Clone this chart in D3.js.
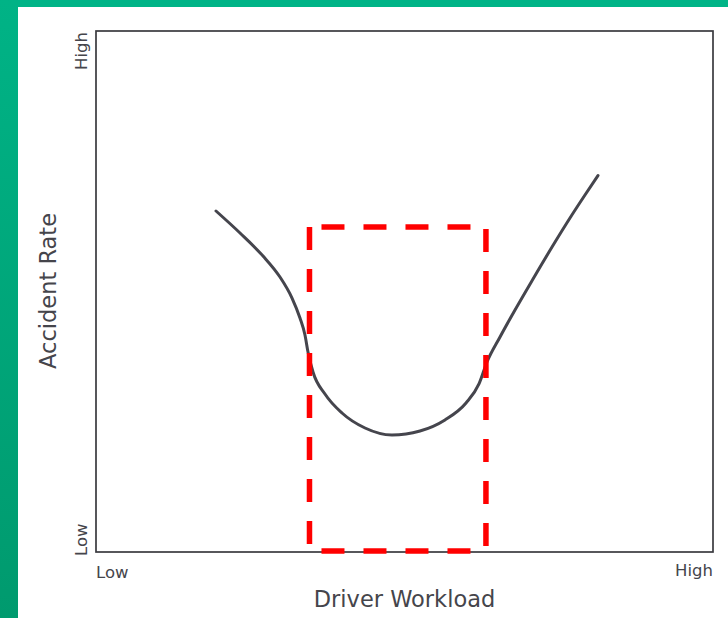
<!DOCTYPE html>
<html>
<head>
<meta charset="utf-8">
<script src="https://cdn.jsdelivr.net/npm/d3@7"></script>
<style>
  html, body { margin: 0; padding: 0; background: #ffffff; }
  svg { display: block; }
</style>
</head>
<body>
<svg id="chart" width="728" height="618"></svg>
<script>
// ---- data ----
const workload = [1.945, 2.334, 2.707, 2.982, 3.177, 3.306, 3.387, 3.436, 3.517, 3.711, 3.987, 4.360, 4.797, 5.251, 5.656, 5.997, 6.207, 6.337, 6.548, 6.791, 7.083, 7.391, 7.682, 7.925, 8.136];
const accidentRate = [6.545, 6.123, 5.681, 5.278, 4.875, 4.491, 4.165, 3.839, 3.455, 3.033, 2.668, 2.380, 2.246, 2.322, 2.534, 2.860, 3.225, 3.647, 4.127, 4.645, 5.240, 5.854, 6.411, 6.852, 7.226];
const endLabels = ["Low", "High"];
const xTitle = "Driver Workload";
const yTitle = "Accident Rate";
const zoneWorkload = [3.46, 6.32];
const zoneRate = [0.02, 6.24];

// ---- layout ----
const W = 728, H = 618;
const frame = { left: 96, right: 713, top: 31, bottom: 552 };
const svg = d3.select("#chart");

const defs = svg.append("defs");
const grad = defs.append("linearGradient").attr("id", "leftBand")
  .attr("x1", 0).attr("y1", 0).attr("x2", 0).attr("y2", 1);
grad.append("stop").attr("offset", "0%").attr("stop-color", "#00b386");
grad.append("stop").attr("offset", "100%").attr("stop-color", "#009a6e");

svg.append("rect").attr("x", 0).attr("y", 0).attr("width", W).attr("height", H).attr("fill", "#ffffff");
svg.append("rect").attr("x", 0).attr("y", 0).attr("width", W).attr("height", 7).attr("fill", "#00b487");
svg.append("rect").attr("x", 0).attr("y", 0).attr("width", 18).attr("height", H).attr("fill", "url(#leftBand)");

const x = d3.scaleLinear().domain([0, 10]).range([frame.left, frame.right]);
const y = d3.scaleLinear().domain([0, 10]).range([frame.bottom, frame.top]);

// frame
svg.append("rect")
  .attr("x", x(0)).attr("y", y(10))
  .attr("width", x(10) - x(0)).attr("height", y(0) - y(10))
  .attr("fill", "none").attr("stroke", "#3a3a3f").attr("stroke-width", 1.7);

const textColor = "#45454b";
const font = "'DejaVu Sans', sans-serif";

// y end labels (rotated)
svg.append("text")
  .attr("transform", `translate(87,${y(10) + 1}) rotate(-90)`)
  .attr("text-anchor", "end")
  .attr("font-family", font).attr("font-size", 16.5).attr("fill", textColor)
  .text(endLabels[1]);
svg.append("text")
  .attr("transform", `translate(87,${y(0) + 4}) rotate(-90)`)
  .attr("text-anchor", "start")
  .attr("font-family", font).attr("font-size", 16.5).attr("fill", textColor)
  .text(endLabels[0]);

// x end labels
svg.append("text")
  .attr("x", x(0)).attr("y", 578)
  .attr("text-anchor", "start")
  .attr("font-family", font).attr("font-size", 16.5).attr("fill", textColor)
  .text(endLabels[0]);
svg.append("text")
  .attr("x", x(10)).attr("y", 576)
  .attr("text-anchor", "end")
  .attr("font-family", font).attr("font-size", 16.5).attr("fill", textColor)
  .text(endLabels[1]);

// axis titles
svg.append("text")
  .attr("x", (x(0) + x(10)) / 2).attr("y", 607)
  .attr("text-anchor", "middle")
  .attr("font-family", font).attr("font-size", 22.5).attr("fill", textColor)
  .text(xTitle);
svg.append("text")
  .attr("transform", `translate(56,291) rotate(-90)`)
  .attr("text-anchor", "middle")
  .attr("font-family", font).attr("font-size", 22.5).attr("fill", textColor)
  .text(yTitle);

// curve
const pts = workload.map((w, i) => [w, accidentRate[i]]);
const line = d3.line()
  .x(d => x(d[0])).y(d => y(d[1]))
  .curve(d3.curveMonotoneX);
svg.append("path")
  .attr("d", line(pts))
  .attr("fill", "none")
  .attr("stroke", "#45454d")
  .attr("stroke-width", 3)
  .attr("stroke-linecap", "round")
  .attr("stroke-linejoin", "round");

// dashed zone
const dash = "23 19";
const red = "#ff0000";
const zx0 = x(zoneWorkload[0]), zx1 = x(zoneWorkload[1]);
const zy0 = y(zoneRate[1]), zy1 = y(zoneRate[0]);
const zone = svg.append("g").attr("fill", "none").attr("stroke", red).attr("stroke-width", 5.5);
zone.append("line").attr("x1", zx0).attr("x2", zx0).attr("y1", zy0).attr("y2", zy1)
  .attr("stroke-dasharray", dash);
zone.append("line").attr("x1", zx1).attr("x2", zx1).attr("y1", zy0 + 2).attr("y2", zy1)
  .attr("stroke-dasharray", dash);
zone.append("line").attr("x1", zx0).attr("x2", zx1).attr("y1", zy0).attr("y2", zy0)
  .attr("stroke-dasharray", dash).attr("stroke-dashoffset", 30);
zone.append("line").attr("x1", zx0).attr("x2", zx1).attr("y1", zy1).attr("y2", zy1)
  .attr("stroke-dasharray", dash).attr("stroke-dashoffset", 30);
</script>
</body>
</html>
